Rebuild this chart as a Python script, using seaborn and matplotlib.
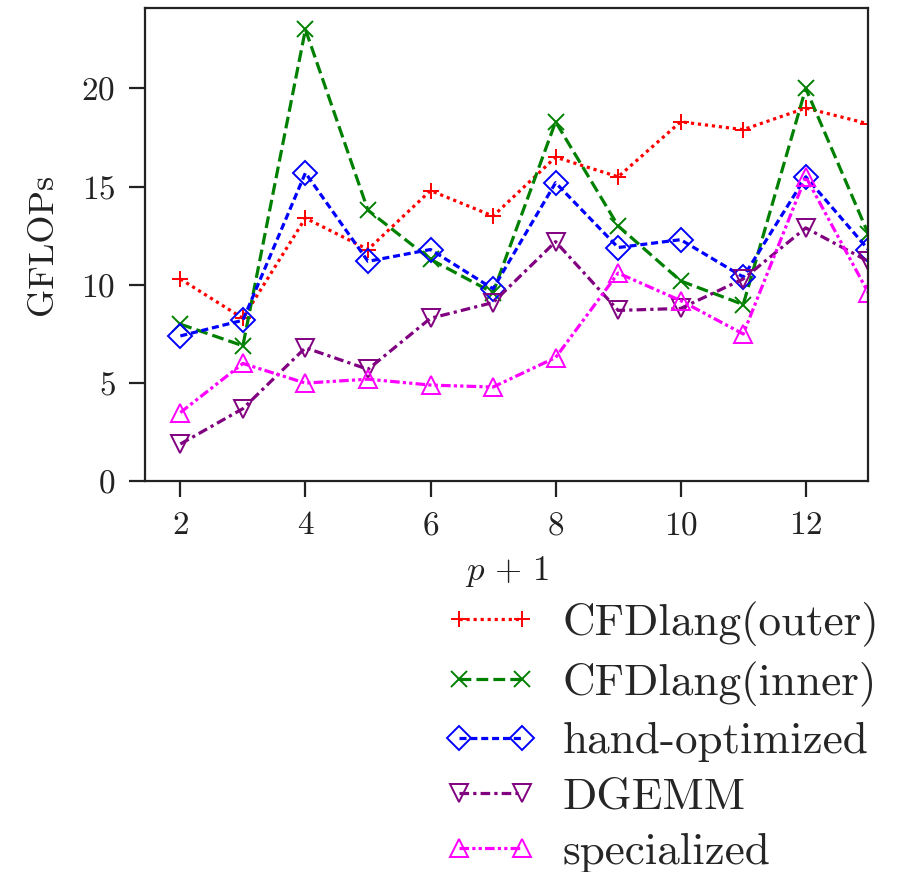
import numpy as np
import pandas as pd
import matplotlib
matplotlib.use('Agg')
import matplotlib.pyplot as plt
import seaborn as sns

# ── Data ───────────────────────────────────────────────────────────────────
p_plus_1 = [2, 3, 4, 5, 6, 7, 8, 9, 10, 11, 12, 13]

cfd_outer = [10.3, 8.3, 13.4, 11.8, 14.8, 13.5, 16.5, 15.5, 18.3, 17.9, 19.0, 18.2]
cfd_inner = [8.0, 6.9, 23.0, 13.8, 11.3, 9.6, 18.3, 13.0, 10.2, 9.0, 20.0, 12.6]
hand_opt  = [7.4, 8.2, 15.7, 11.2, 11.8, 9.8, 15.2, 11.9, 12.3, 10.4, 15.5, 11.8]
dgemm     = [1.9, 3.7, 6.8, 5.7, 8.3, 9.1, 12.2, 8.7, 8.8, 10.3, 12.9, 11.2]
special   = [3.5, 6.0, 5.0, 5.2, 4.9, 4.8, 6.3, 10.6, 9.2, 7.5, 15.5, 9.6]

series = [
    ('CFDlang(outer)', cfd_outer, 'red',     '+', (0, (1, 1.2)),           12),
    ('CFDlang(inner)', cfd_inner, 'green',   'x', (0, (3.7, 1.6)),         11),
    ('hand-optimized', hand_opt,  'blue',    'D', (0, (2.2, 1.2)),         12),
    ('DGEMM',          dgemm,     'purple',  'v', (0, (3, 1.3, 1, 1.3)),   12.5),
    ('specialized',    special,   'magenta', '^', (0, (3, 1, 1, 1, 1, 1)), 12.5),
]

# ── Style ──────────────────────────────────────────────────────────────────
sns.set_theme(style='ticks')
plt.rcParams['font.family'] = ['cmr10', 'DejaVu Serif']
plt.rcParams['mathtext.fontset'] = 'cm'
plt.rcParams['axes.formatter.use_mathtext'] = True

fig = plt.figure(figsize=(8.97, 8.72), dpi=100)
ax = fig.add_axes([0.162, 0.448, 0.806, 0.543])

for name, vals, color, marker, ls, ms in series:
    df = pd.DataFrame({'x': p_plus_1, 'y': vals})
    sns.lineplot(data=df, x='x', y='y', ax=ax, color=color, label=name,
                 linestyle=ls, linewidth=2.3, marker=marker, markersize=ms,
                 markerfacecolor='none', markeredgecolor=color,
                 markeredgewidth=1.4)

ax.set_xlim(1.44, 13)
ax.set_ylim(0, 24.1)
ax.set_xticks([2, 4, 6, 8, 10, 12])
ax.set_yticks([0, 5, 10, 15, 20])
ax.tick_params(axis='both', labelsize=24, length=11.5, width=1.6, colors='#222222',
               labelcolor='#222222', pad=10)
for sp in ax.spines.values():
    sp.set_visible(True)
    sp.set_linewidth(1.6)
    sp.set_color('#222222')

ax.set_xlabel(r'$p\,+\,1$', fontsize=25, labelpad=10, color='#222222')
ax.set_ylabel('GFLOPs', fontsize=26, labelpad=16, color='#222222')

handles, labels = ax.get_legend_handles_labels()
ax.get_legend().remove()
fig.legend(handles, labels, loc='upper left', bbox_to_anchor=(0.4766, 0.331),
           frameon=False, fontsize=32.5, handlelength=2.0, labelspacing=0.33,
           numpoints=2, borderaxespad=0, handletextpad=0.6)

fig.savefig('out.png', dpi=100)
